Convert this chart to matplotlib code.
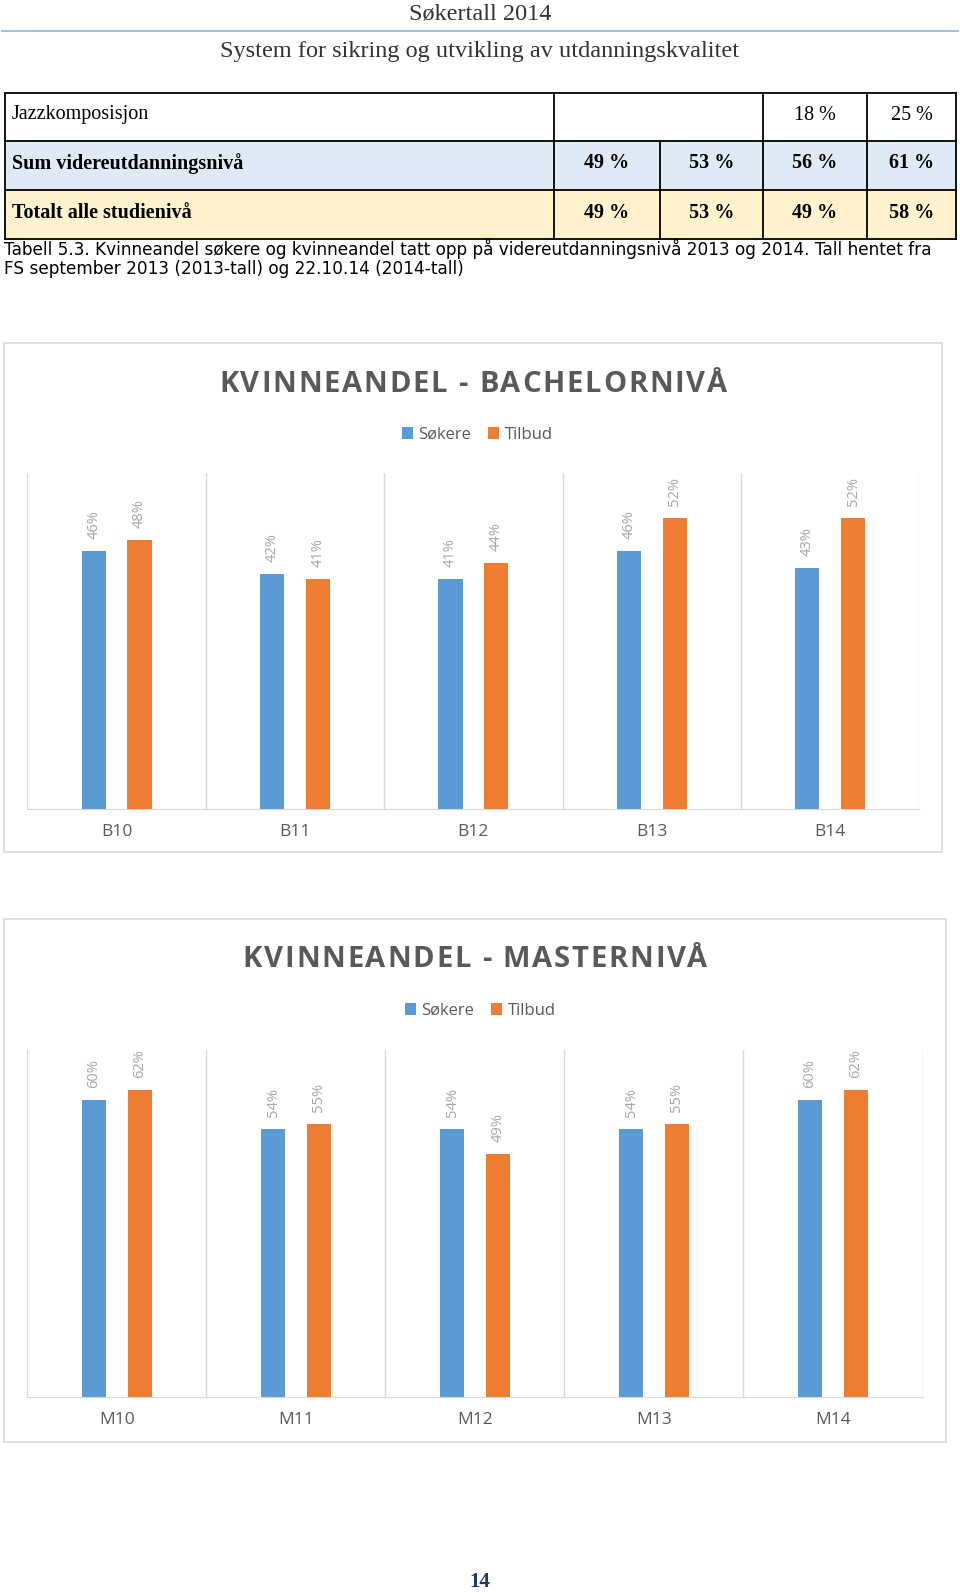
import matplotlib.pyplot as plt
from matplotlib.patches import Rectangle
import numpy as np

W, H = 960, 1592

# table data
row_names = ["Jazzkomposisjon", "Sum videreutdanningsnivå", "Totalt alle studienivå"]
jazz_values = ["18 %", "25 %"]
sum_values = ["49 %", "53 %", "56 %", "61 %"]
total_values = ["49 %", "53 %", "49 %", "58 %"]

# chart data
bachelor_cats = ["B10", "B11", "B12", "B13", "B14"]
bachelor_sokere = [46, 42, 41, 46, 43]
bachelor_tilbud = [48, 41, 44, 52, 52]

master_cats = ["M10", "M11", "M12", "M13", "M14"]
master_sokere = [60, 54, 54, 54, 60]
master_tilbud = [62, 55, 49, 55, 62]

BLUE = '#5B9BD5'
ORANGE = '#ED7D31'
GREY = '#595959'
LIGHT = '#D9D9D9'


def fx(x):
    return x / W


def fy(y):
    return 1 - y / H


fig = plt.figure(figsize=(W / 100, H / 100), dpi=100)
renderer = fig.canvas.get_renderer()


def spaced_text(xc, yc, s, gap, **kw):
    # draw text char by char with extra spacing (pixels), centred on xc
    widths = []
    for ch in s:
        t = fig.text(0, 0, ch, **kw)
        widths.append(t.get_window_extent(renderer).width if ch != ' ' else None)
        t.remove()
    sp = fig.text(0, 0, 'a a', **kw)
    sp_w = sp.get_window_extent(renderer).width
    sp.remove()
    aa = fig.text(0, 0, 'aa', **kw)
    sp_w -= aa.get_window_extent(renderer).width
    aa.remove()
    widths = [w if w is not None else sp_w for w in widths]
    total = sum(widths) + gap * (len(s) - 1)
    x = xc - total / 2
    for ch, w in zip(s, widths):
        fig.text(fx(x), fy(yc), ch, ha='left', va='center', **kw)
        x += w + gap


# page header
fig.text(fx(480), fy(14), "Søkertall 2014", family='Liberation Serif', fontsize=17.5,
         color='#333333', ha='center', va='center')
fig.add_artist(plt.Line2D([fx(2), fx(958)], [fy(31), fy(31)], color='#9DC3E6', lw=1.5))
fig.text(fx(480), fy(51), "System for sikring og utvikling av utdanningskvalitet",
         family='Liberation Serif', fontsize=17.5, color='#333333', ha='center', va='center')

# table
col_x = [5, 554, 660, 763, 867, 956]
row_y = [93, 141, 190, 239]
fills = ['white', '#DEEAF6', '#FFF2CC']
for i in range(3):
    fig.add_artist(Rectangle((fx(col_x[0]), fy(row_y[i + 1])), fx(col_x[-1] - col_x[0]),
                             (row_y[i + 1] - row_y[i]) / H, transform=fig.transFigure,
                             facecolor=fills[i], edgecolor='none'))
for y in row_y:
    fig.add_artist(plt.Line2D([fx(col_x[0]), fx(col_x[-1])], [fy(y), fy(y)], color='black', lw=1.3))
for j, x in enumerate(col_x):
    top = row_y[1] if j == 2 else row_y[0]
    fig.add_artist(plt.Line2D([fx(x), fx(x)], [fy(top), fy(row_y[-1])], color='black', lw=1.3))

row_vals = [[None, None] + jazz_values, sum_values, total_values]
for i, name in enumerate(row_names):
    yc = (row_y[i] + row_y[i + 1]) / 2 - 2
    wt = 'normal' if i == 0 else 'bold'
    fig.text(fx(12), fy(yc), name, family='Liberation Serif', fontsize=14.5,
             weight=wt, ha='left', va='center')
    for j, v in enumerate(row_vals[i]):
        if v is None:
            continue
        xc = (col_x[j + 1] + col_x[j + 2]) / 2
        fig.text(fx(xc), fy(yc), v, family='Liberation Serif', fontsize=14.5,
                 weight=wt, ha='center', va='center')

fig.text(fx(4), fy(249), "Tabell 5.3. Kvinneandel søkere og kvinneandel tatt opp på videreutdanningsnivå 2013 og 2014. Tall hentet fra",
         family='DejaVu Sans', fontsize=12.15, ha='left', va='center')
fig.text(fx(4), fy(269), "FS september 2013 (2013-tall) og 22.10.14 (2014-tall)",
         family='DejaVu Sans', fontsize=12.15, ha='left', va='center')


def chart(box, area, title, title_xy, legend_xy, cats, sokere, tilbud, ymax):
    bx0, by0, bx1, by1 = box
    fig.add_artist(Rectangle((fx(bx0), fy(by1)), fx(bx1 - bx0), (by1 - by0) / H,
                             transform=fig.transFigure, facecolor='white', edgecolor=LIGHT,
                             lw=1.2, zorder=-1))
    spaced_text(title_xy[0], title_xy[1], title, 1.8, family='Open Sans', weight='bold',
                fontsize=21, color=GREY)
    ax0, ay0, ax1, ay1 = area
    ax = fig.add_axes([fx(ax0), fy(ay1), fx(ax1 - ax0), (ay1 - ay0) / H])
    ax.set_zorder(2)
    x = np.arange(len(cats))
    b1 = ax.bar(x - 0.128, sokere, 0.136, color=BLUE, label='Søkere', zorder=3)
    b2 = ax.bar(x + 0.128, tilbud, 0.136, color=ORANGE, label='Tilbud', zorder=3)
    for bars, vals in [(b1, sokere), (b2, tilbud)]:
        for r, v in zip(bars, vals):
            ax.annotate(f"{v}%", (r.get_x() + r.get_width() / 2, v), xytext=(0, 12),
                        textcoords='offset pixels', rotation=90, ha='center', va='bottom',
                        family='Open Sans', fontsize=10.5, color='#A6A6A6')
    for b in np.arange(len(cats) + 1) - 0.5:
        ax.axvline(b, color=LIGHT, lw=1, zorder=1)
    ax.set_xlim(-0.5, len(cats) - 0.5)
    ax.set_ylim(0, ymax)
    ax.set_yticks([])
    ax.set_xticks(x)
    ax.set_xticklabels(cats, family='Open Sans', fontsize=12.5, color=GREY)
    ax.tick_params(axis='x', length=0, pad=11)
    for s in ['top', 'left', 'right']:
        ax.spines[s].set_visible(False)
    ax.spines['bottom'].set_color(LIGHT)
    ax.patch.set_alpha(0)
    fig.legend(handles=[b1, b2], loc='center', bbox_to_anchor=(fx(legend_xy[0]), fy(legend_xy[1])),
               ncol=2, frameon=False, handlelength=0.7, handleheight=0.7, handletextpad=0.3,
               columnspacing=1.0, prop={'family': 'Open Sans', 'size': 12}, labelcolor=GREY)


chart((4, 343, 942, 852), (27.4, 473, 919.4, 809), "KVINNEANDEL - BACHELORNIVÅ", (473, 384),
      (477, 435), bachelor_cats, bachelor_sokere, bachelor_tilbud, 60)
chart((4, 919, 946, 1442), (27.4, 1050, 922.5, 1397), "KVINNEANDEL - MASTERNIVÅ", (475, 960),
      (480, 1011), master_cats, master_sokere, master_tilbud, 70)

fig.text(fx(480), fy(1582), "14", family='Liberation Serif', weight='bold', fontsize=15,
         color='#1F3864', ha='center', va='center')

fig.savefig('out.png', dpi=100)
